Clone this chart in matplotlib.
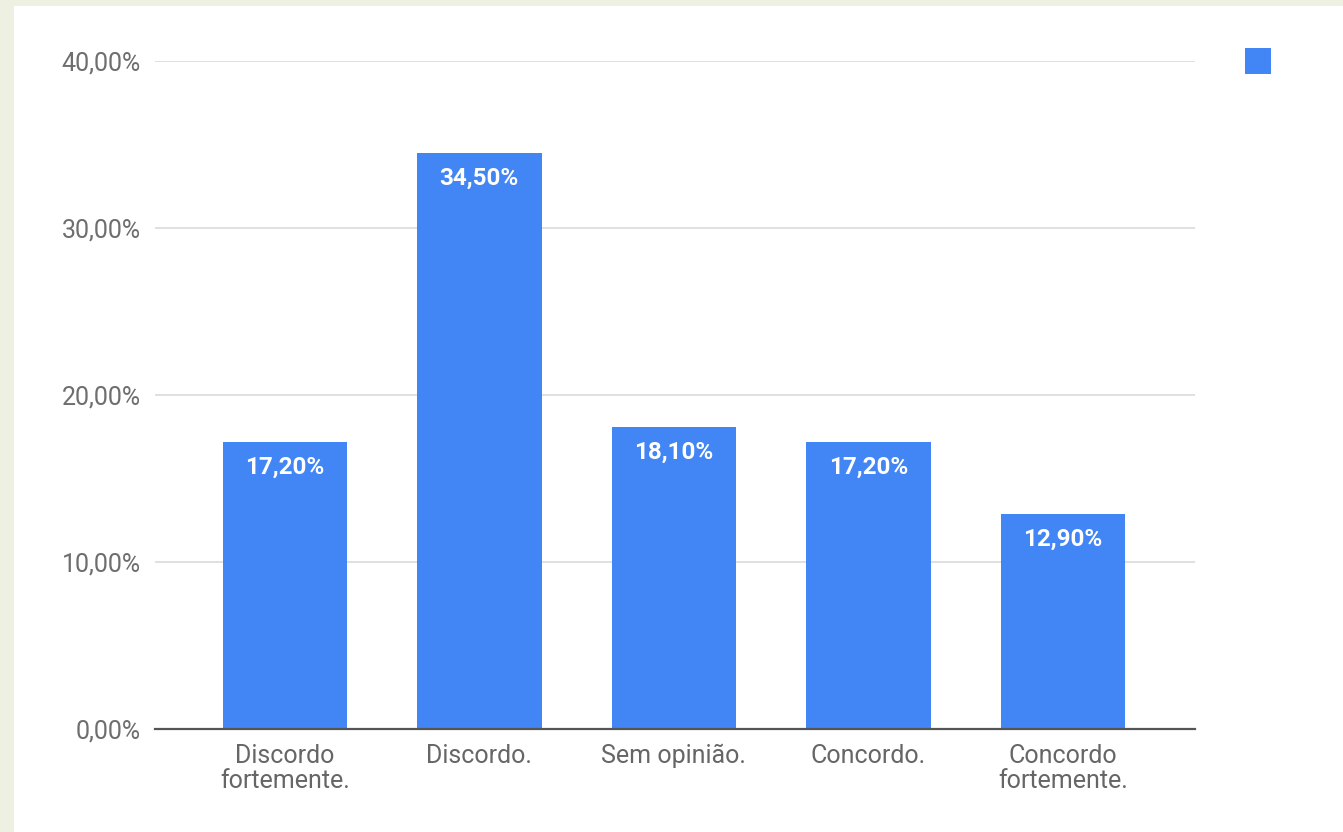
import matplotlib
matplotlib.use("Agg")
import matplotlib.pyplot as plt
from matplotlib.patches import Rectangle

categories = ["Discordo\nfortemente.", "Discordo.", "Sem opinião.", "Concordo.", "Concordo\nfortemente."]
values = [17.2, 34.5, 18.1, 17.2, 12.9]
yticks = [0, 10, 20, 30, 40]

def fmt(v):
    return f"{v:.2f}".replace(".", ",") + "%"

plt.rcParams['font.family'] = ['Roboto', 'DejaVu Sans']
W, H = 1343, 832
fig = plt.figure(figsize=(W/100, H/100), dpi=100, facecolor="#EEF1E2")
# white panel
fig.add_artist(Rectangle((14/W, 0), 1, 1 - 6/H, transform=fig.transFigure,
                         facecolor="white", edgecolor="none", zorder=-10))

ax = fig.add_axes([155/W, (H-729)/H, (1195-155)/W, (729-61)/H], zorder=1)
ax.set_facecolor("none")
x = list(range(len(categories)))
bar_color = "#4285F4"
ax.bar(x, values, width=0.64, color=bar_color, zorder=3)
ax.set_xlim(-0.668, 4.68)
ax.set_ylim(0, 40)
ax.set_yticks(yticks)
ax.set_yticklabels([fmt(v) for v in yticks], fontsize=18, color="#6E6E6E")
ax.set_xticks(x)
ax.set_xticklabels(categories, fontsize=18, color="#666666", linespacing=1.05)
ax.tick_params(axis='y', length=0, pad=10)
ax.tick_params(axis='x', length=0, pad=11)
for s in ["top", "right", "left"]:
    ax.spines[s].set_visible(False)
ax.spines["bottom"].set_color("#555555")
ax.spines["bottom"].set_linewidth(1.6)
ax.spines["bottom"].set_zorder(4)
ax.grid(axis='y', color="#DADADA", linewidth=1.2, zorder=0)
ax.set_axisbelow(True)

for xi, v in zip(x, values):
    ax.annotate(fmt(v), (xi, v), xytext=(0, -10), textcoords="offset points",
                ha="center", va="top", color="white", fontsize=17.5, fontweight="bold", zorder=5)

# legend marker (no label)
fig.add_artist(Rectangle((1245/W, (H-74)/H), 26/W, 26/H, transform=fig.transFigure,
                         facecolor=bar_color, edgecolor="none", zorder=2))

fig.savefig("out.png", dpi=100, facecolor=fig.get_facecolor())
